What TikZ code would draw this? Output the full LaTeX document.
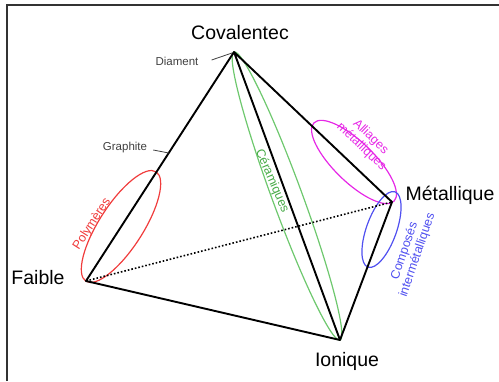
\documentclass[tikz,border=0pt]{standalone}
\usepackage{fontspec}
\setmainfont{Liberation Sans}
\usetikzlibrary{calc}
\definecolor{polyred}{RGB}{240,60,60}
\definecolor{ceragreen}{RGB}{110,200,110}
\definecolor{ceratext}{RGB}{70,170,70}
\definecolor{allimag}{RGB}{230,40,230}
\definecolor{compblue}{RGB}{80,80,240}

\begin{document}
\begin{tikzpicture}[x=1pt,y=1pt,
  edge/.style={line width=1.9pt,line cap=round,line join=round},
  lab/.style={font=\fontsize{19.5}{22}\selectfont,inner sep=0pt},
  small/.style={font=\fontsize{11.5}{13}\selectfont,text=black!75,inner sep=0pt},
  tag/.style={font=\fontsize{12.5}{13.5}\selectfont,align=center,inner sep=0pt},
  ring/.style={line width=1.2pt}]
\useasboundingbox (0,0) rectangle (499,381);
\draw[black!80,line width=1.5pt] (7,0)--(7,376)--(499,376);
% vertices
\coordinate (cov) at (234,329);
\coordinate (fai) at (86,100);
\coordinate (ion) at (340,41);
\coordinate (met) at (392,179);
\coordinate (gpt) at ($(fai)!0.559!(cov)$);
% families
\draw[ring,polyred,rotate around={57.3:(121,154.5)}] (121,154.5) ellipse (65 and 22);
\draw[ring,ceragreen,rotate around={-69.8:(287,185)}] (287,185) ellipse (153.5 and 15);
\draw[ring,allimag,rotate around={-44.3:(354,219)}] (354,219) ellipse (56 and 20);
\draw[ring,compblue,rotate around={70.2:(381.5,151.5)}] (381.5,151.5) ellipse (40 and 15);
% tetrahedron
\draw[edge] (cov)--(fai)--(ion)--(met)--cycle (cov)--(ion);
\draw[line width=1.6pt,dotted] (fai)--(met);
% labels
\node[lab] (covl) at (240,348) {Covalentec};
\node[lab] (fail) at (38,103) {Faible};
\node[lab] (metl) at (450,186) {Métallique};
\node[lab] (ionl) at (347,20) {Ionique};
\node[small] (dia) at (177,320) {Diament};
\node[small] (gra) at (125,233) {Graphite};
\draw[black!75,line width=.8pt] ([xshift=13pt,yshift=1pt]dia.east)--([xshift=-2pt,yshift=-1pt]cov);
\draw[black!75,line width=.8pt] ([xshift=6pt,yshift=-2pt]gra.east)--(gpt);
\node[tag,text=polyred,rotate=57.5] (poly) at (92,157) {Polymères};
\node[tag,text=ceratext,rotate=-66.6] (cera) at (272,200) {Céramiques};
\node[tag,text=allimag,rotate=-44] (alli) at (366,239) {Alliages\\métalliques};
\node[tag,text=compblue,rotate=71] (comp) at (411,128) {Composés\\intermétalliques};
\end{tikzpicture}
\end{document}
